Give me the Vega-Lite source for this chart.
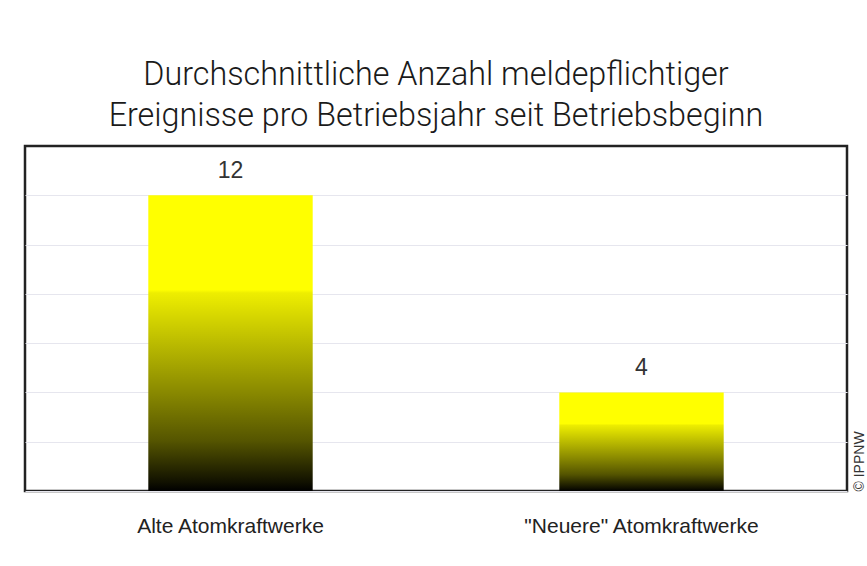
{
  "$schema": "https://vega.github.io/schema/vega-lite/v6.json",
  "width": 822,
  "height": 345,
  "padding": {"left": 25, "top": 58, "right": 0, "bottom": 0},
  "background": "white",
  "title": {
    "text": ["Durchschnittliche Anzahl meldepflichtiger", "Ereignisse pro Betriebsjahr seit Betriebsbeginn"],
    "font": "Roboto",
    "fontSize": 32.3,
    "fontWeight": 300,
    "lineHeight": 41,
    "color": "#1a1a1a",
    "offset": 14,
    "anchor": "middle"
  },
  "data": {
    "values": [
      {"Kategorie": "Alte Atomkraftwerke", "Anzahl": 12},
      {"Kategorie": "\"Neuere\" Atomkraftwerke", "Anzahl": 4}
    ]
  },
  "encoding": {
    "x": {
      "field": "Kategorie",
      "type": "nominal",
      "sort": null,
      "scale": {"paddingInner": 0.6, "paddingOuter": 0.3},
      "axis": {
        "title": null,
        "labelAngle": 0,
        "labelLimit": 0,
        "labelFont": "Liberation Sans",
        "labelFontSize": 21,
        "labelColor": "#222222",
        "labelPadding": 24,
        "ticks": false,
        "domain": false
      }
    },
    "y": {
      "field": "Anzahl",
      "type": "quantitative",
      "scale": {"domain": [0, 14], "nice": false},
      "axis": {
        "orient": "right",
        "values": [0, 2, 4, 6, 8, 10, 12],
        "labels": false,
        "ticks": false,
        "domain": false,
        "grid": true,
        "gridColor": "#e6e6ee",
        "gridWidth": 1,
        "title": "© IPPNW",
        "titleAngle": 270,
        "titleBaseline": "top",
        "titleAnchor": "start",
        "titleFont": "Liberation Sans",
        "titleFontSize": 14,
        "titleFontWeight": "normal",
        "titleColor": "#333333",
        "titlePadding": 5
      }
    }
  },
  "layer": [
    {
      "mark": {
        "type": "bar",
        "color": {
          "gradient": "linear",
          "x1": 0, "y1": 0, "x2": 0, "y2": 1,
          "stops": [
            {"offset": 0, "color": "#ffff00"},
            {"offset": 0.32, "color": "#ffff00"},
            {"offset": 0.33, "color": "#eeee00"},
            {"offset": 0.5, "color": "#bbbb00"},
            {"offset": 0.67, "color": "#888800"},
            {"offset": 0.83, "color": "#555500"},
            {"offset": 0.97, "color": "#111100"},
            {"offset": 1, "color": "#000000"}
          ]
        }
      }
    },
    {
      "mark": {
        "type": "text",
        "baseline": "bottom",
        "dy": -12,
        "font": "Liberation Sans",
        "fontSize": 23,
        "color": "#333333"
      },
      "encoding": {"text": {"field": "Anzahl", "type": "quantitative"}}
    }
  ],
  "config": {
    "view": {"stroke": "#222222", "strokeWidth": 2.5}
  }
}
